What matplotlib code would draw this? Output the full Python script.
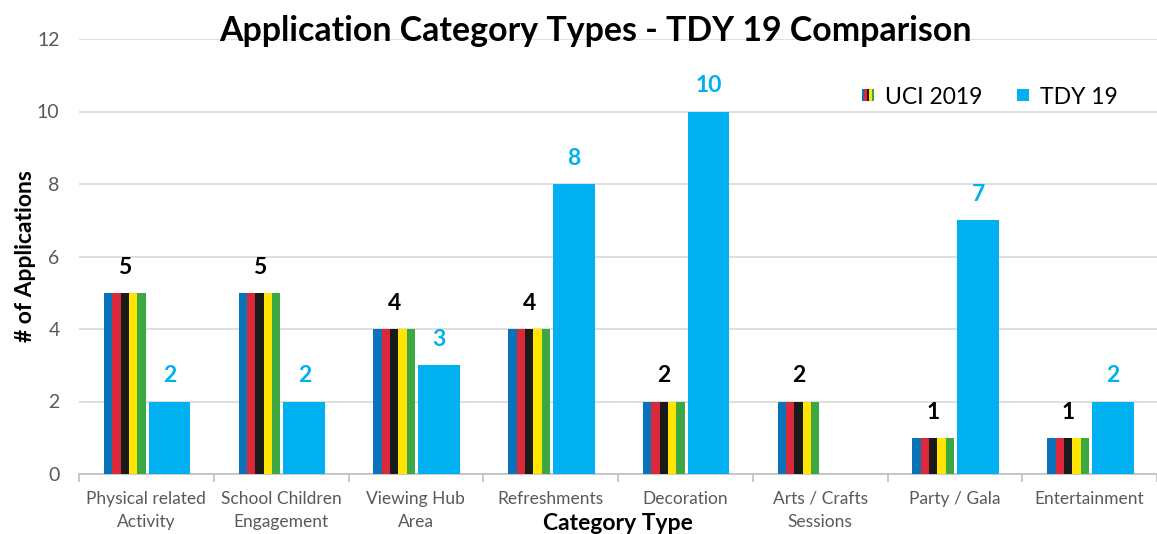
import matplotlib
matplotlib.use("Agg")
import matplotlib.pyplot as plt
from matplotlib.patches import Rectangle
from matplotlib.legend_handler import HandlerBase
import numpy as np

categories = ["Physical related\nActivity", "School Children\nEngagement", "Viewing Hub\nArea",
              "Refreshments", "Decoration", "Arts / Crafts\nSessions", "Party / Gala", "Entertainment"]
uci_2019 = [5, 5, 4, 4, 2, 2, 1, 1]
tdy_19 = [2, 2, 3, 8, 10, None, 7, 2]
stripe_colors = ["#0a72b8", "#d9293a", "#1a1a1a", "#ffe500", "#3da843"]
tdy_color = "#00b0f0"

plt.rcParams['font.family'] = ['Lato', 'DejaVu Sans']

fig = plt.figure(figsize=(11.57, 5.34), dpi=100)
ax = fig.add_axes([79/1157, 1-474/534, 1-79/1157, (474-39)/534])

x = np.arange(len(categories))
bw = 0.31
gap = 0.022
uci_center = x - (bw/2 + gap/2) + 0.006
tdy_center = x + (bw/2 + gap/2) + 0.006
sw = bw / 5
for i, c in enumerate(stripe_colors):
    ax.bar(uci_center - bw/2 + sw*(i+0.5), uci_2019, width=sw, color=c, zorder=3)

tdy_vals = [v if v is not None else 0 for v in tdy_19]
ax.bar(tdy_center, tdy_vals, width=bw, color=tdy_color, zorder=3)

for xi, v in zip(uci_center, uci_2019):
    ax.text(xi, v + 0.42, str(v), ha='center', va='bottom', fontsize=16.5, fontweight='bold', color='black')
for xi, v in zip(tdy_center, tdy_19):
    if v is not None:
        ax.text(xi, v + 0.42, str(v), ha='center', va='bottom', fontsize=16.5, fontweight='bold', color=tdy_color)

ax.set_xlim(-0.5, len(categories) - 0.5)
ax.set_ylim(0, 12)
ax.set_yticks(range(0, 13, 2))
ax.yaxis.grid(True, color='#d9d9d9', linewidth=1.2, zorder=0)
ax.set_axisbelow(True)
for s in ['top', 'right', 'left']:
    ax.spines[s].set_visible(False)
ax.spines['bottom'].set_color('#bfbfbf')
ax.spines['bottom'].set_linewidth(1.2)
ax.tick_params(axis='y', length=0, labelsize=14, labelcolor='#595959', pad=14)
ax.set_xticks(x)
ax.set_xticklabels(categories, fontsize=12.5, color='#595959', linespacing=1.55)
ax.tick_params(axis='x', length=0, pad=12)
ax.set_xticks(np.arange(-0.5, len(categories), 1), minor=True)
ax.tick_params(axis='x', which='minor', length=6, color='#bfbfbf', width=1.2)

ax.set_ylabel("# of Applications", fontsize=16.5, fontweight='bold', labelpad=1)
ax.set_xlabel("Category Type", fontsize=16.5, fontweight='bold', labelpad=-12)
fig.text(595/1157, 1-31/534, "Application Category Types - TDY 19 Comparison",
         ha='center', va='center', fontsize=24.4, fontweight='bold')


class StripeHandler(HandlerBase):
    def create_artists(self, legend, orig_handle, xdescent, ydescent, width, height, fontsize, trans):
        arts = []
        s = height * 0.75
        x0 = width - s - xdescent
        y0 = (height - s) / 2 - ydescent
        for i, c in enumerate(stripe_colors):
            r = Rectangle((x0 + i*s/5, y0), s/5, s, facecolor=c, edgecolor='none', transform=trans)
            arts.append(r)
        return arts


class SquareHandler(HandlerBase):
    def create_artists(self, legend, orig_handle, xdescent, ydescent, width, height, fontsize, trans):
        s = height * 0.75
        x0 = width - s - xdescent
        y0 = (height - s) / 2 - ydescent
        return [Rectangle((x0, y0), s, s, facecolor=tdy_color, edgecolor='none', transform=trans)]


h1 = Rectangle((0, 0), 1, 1)
h2 = Rectangle((0, 0), 1, 1, facecolor=tdy_color)
ax.legend([h1, h2], ["UCI 2019", "TDY 19"], handler_map={h1: StripeHandler(), h2: SquareHandler()},
          loc='center', bbox_to_anchor=((989-79)/(1157-79), (474-97)/(474-39)), ncol=2, frameon=False,
          fontsize=16.5, handlelength=0.6, handletextpad=0.5, columnspacing=1.4)

fig.savefig("out.png", dpi=100)
